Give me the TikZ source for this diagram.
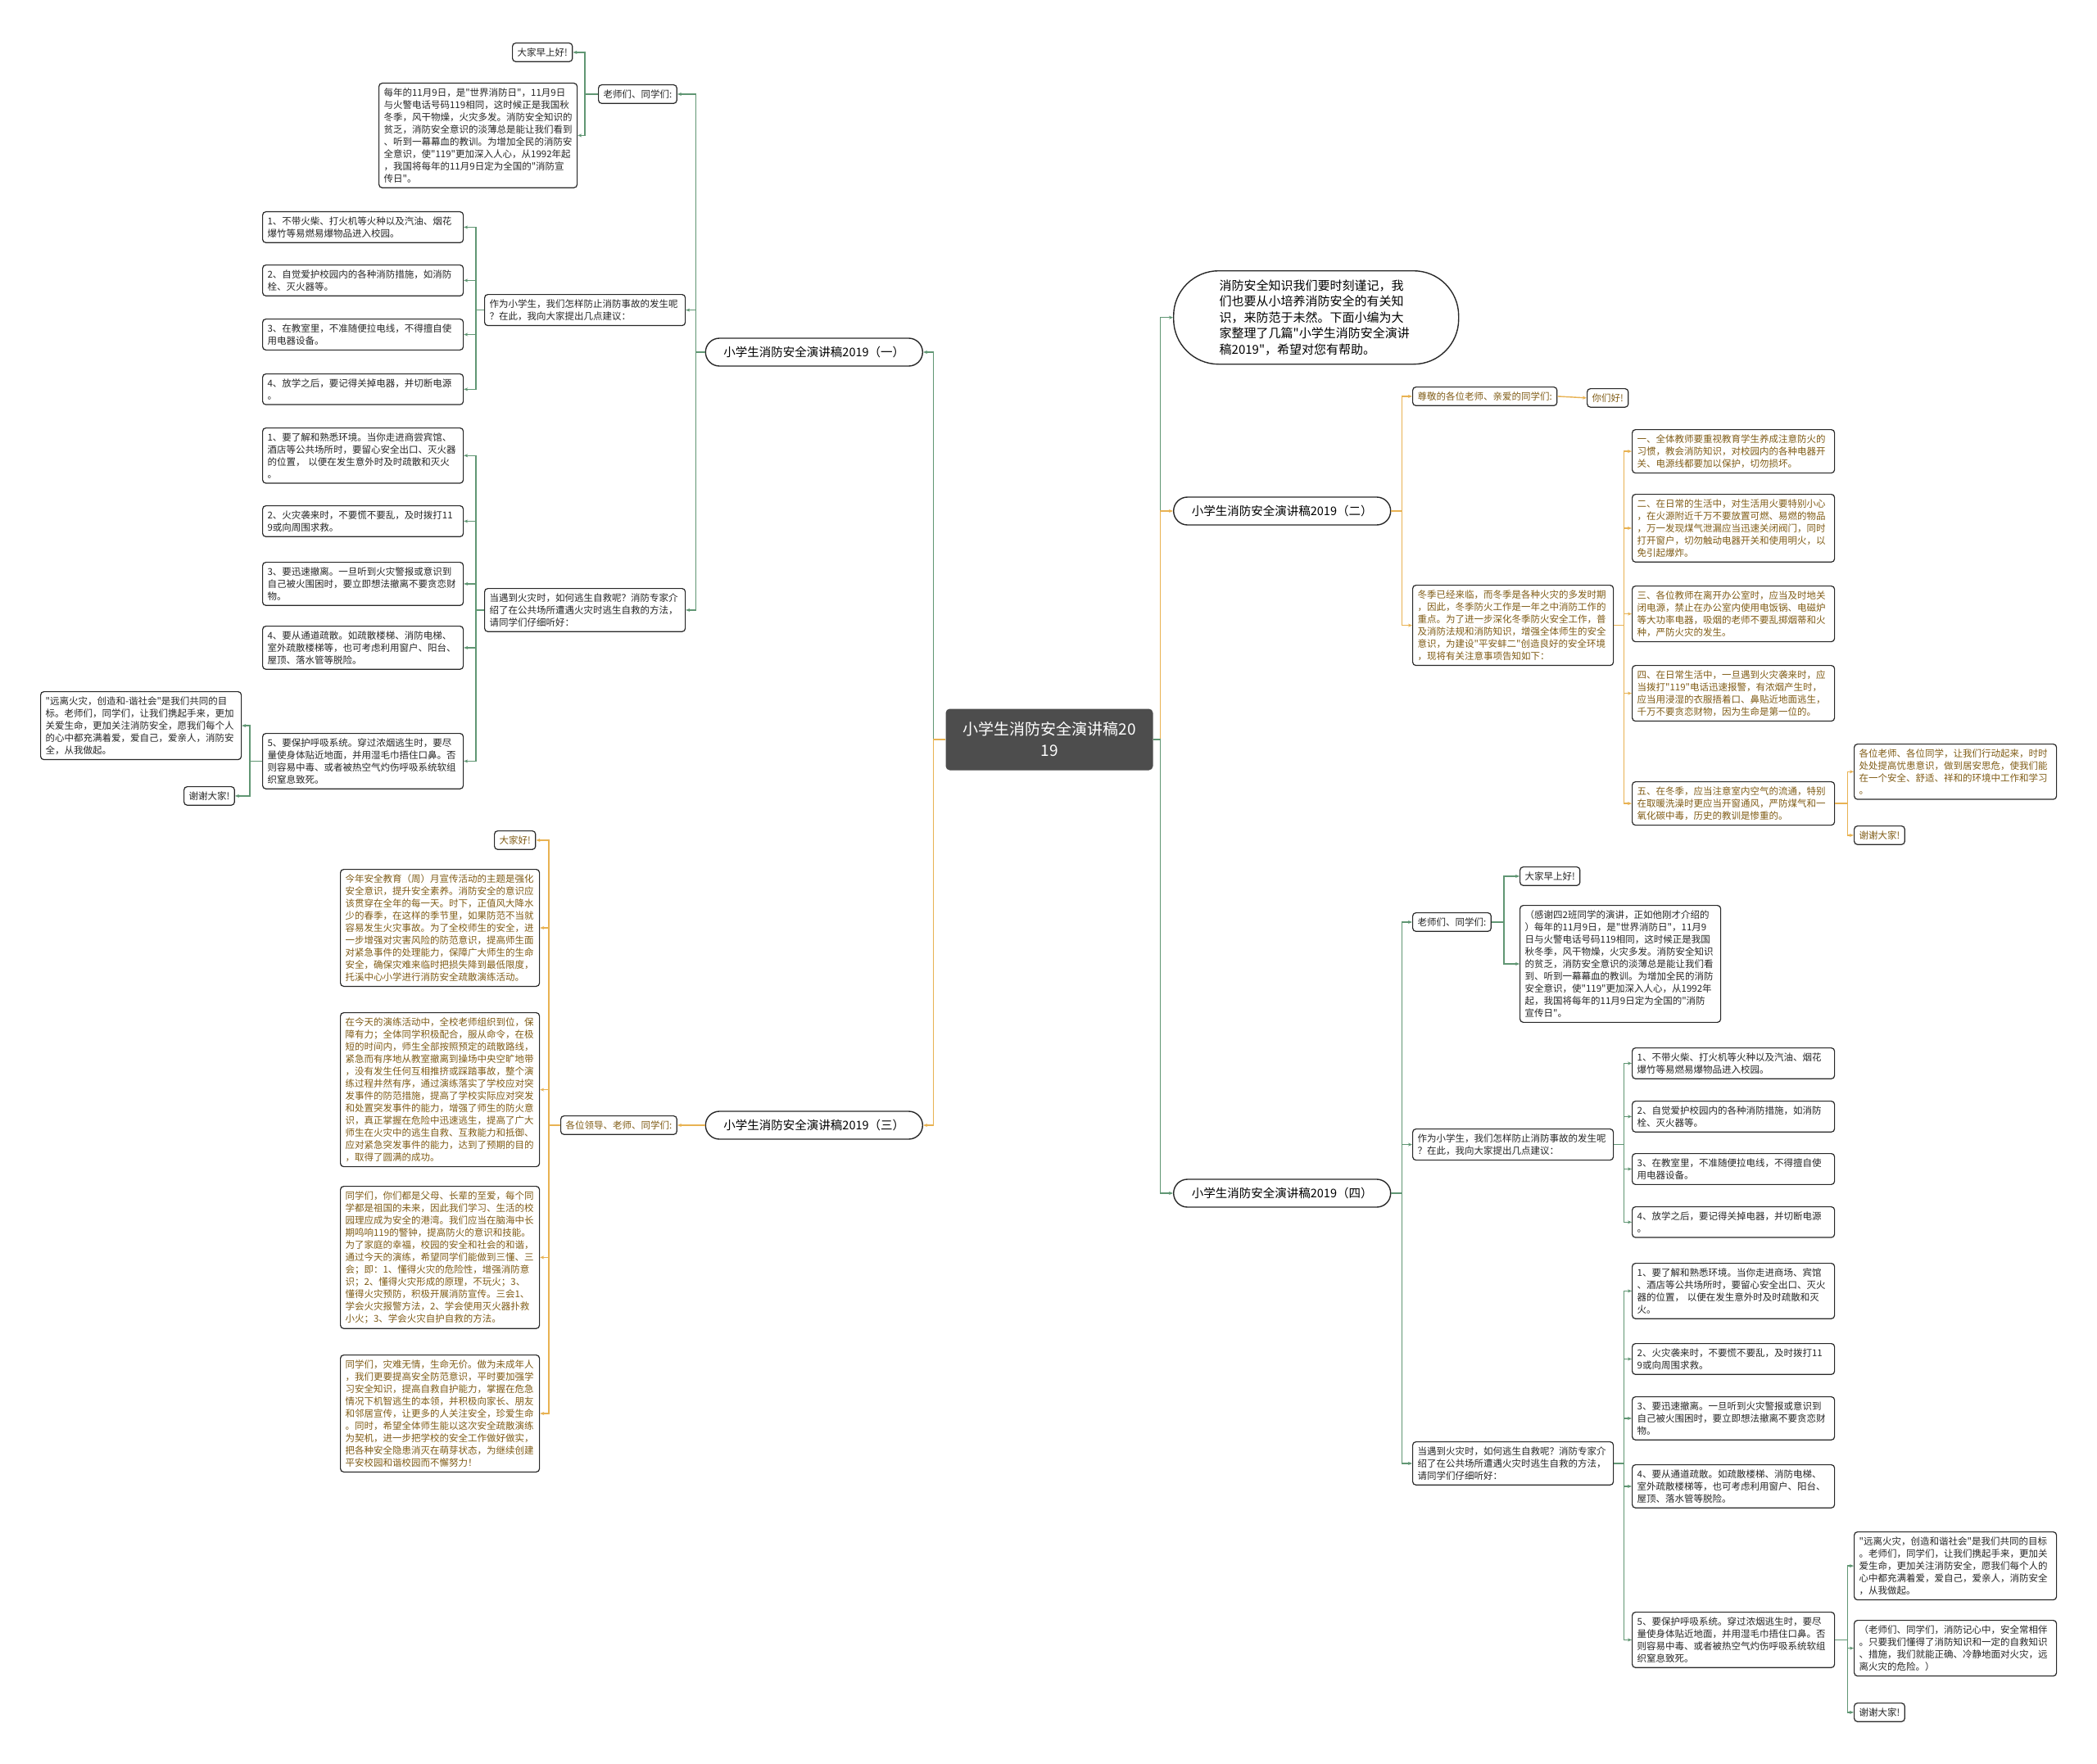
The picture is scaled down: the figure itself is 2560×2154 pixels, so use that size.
\documentclass[tikz,border=0pt]{standalone}
\usepackage{fontspec}
\setmainfont{Noto Sans CJK SC}[Ligatures=TeXOff]
\usepackage{tikz}
\usetikzlibrary{arrows.meta,positioning}
\definecolor{cstgreen}{RGB}{96,150,115}
\definecolor{cstorange}{RGB}{232,178,82}
\definecolor{cstgold}{RGB}{128,92,22}
\definecolor{cstborder}{RGB}{40,40,40}
\definecolor{cstdark}{RGB}{77,77,77}
\tikzset{
  % node
	cstroot/.style   ={fill=cstdark,text=white,rounded corners=5pt,minimum width=253pt,minimum height=75pt,align=center,font=\fontsize{19}{26}\selectfont},
	cstbranch/.style ={draw=cstborder,fill=white,line width=1.4pt,rounded corners=17pt,minimum width=265pt,minimum height=34pt,inner xsep=0pt,font=\fontsize{14.5}{18}\selectfont},
	cstintro/.style  ={draw=cstborder,fill=white,line width=1.4pt,rounded corners=55pt,minimum width=348pt,minimum height=114pt,text width=236pt,align=left,anchor=north west,font=\fontsize{15}{19.6}\selectfont},
	cstbox/.style    ={draw=cstborder,fill=white,line width=1.2pt,rounded corners=4pt,inner xsep=6pt,inner ysep=6pt,align=left,anchor=north west,font=\fontsize{11.5}{15}\selectfont},
	cstboxg/.style   ={cstbox,text=black!85},
	cstboxo/.style   ={cstbox,text=cstgold},
  % link
	cstlinkg/.style  ={cstgreen,line width=1.4pt,-{Stealth[length=5pt,width=4pt]}},
	cstlinko/.style  ={cstorange,line width=1.4pt,-{Stealth[length=5pt,width=4pt]}}
}
\begin{document}
\begin{tikzpicture}[x=1pt,y=-1pt]
	\useasboundingbox (0,0) rectangle (2560,2154);
	\fill[white] (0,0) rectangle (2560,2154);
	% root
	\node[cstroot] (root) at (1281,903) {小学生消防安全演讲稿20\\19};
	\node[cstintro] (intro) at (1432,330) {消防安全知识我们要时刻谨记，我\\们也要从小培养消防安全的有关知\\识，来防范于未然。下面小编为大\\家整理了几篇"小学生消防安全演讲\\稿2019"，希望对您有帮助。};
	\node[cstbranch,anchor=east] (b1) at (1127,430) {小学生消防安全演讲稿2019（一）};
	\node[cstbranch,anchor=west] (b2) at (1432,624) {小学生消防安全演讲稿2019（二）};
	\node[cstbranch,anchor=east] (b3) at (1127,1374) {小学生消防安全演讲稿2019（三）};
	\node[cstbranch,anchor=west] (b4) at (1432,1457) {小学生消防安全演讲稿2019（四）};
	\draw[cstlinkg] (root.east) -- ++(9,0) |- (intro.west);
	\draw[cstlinko] (root.east) -- ++(9,0) |- (b2.west);
	\draw[cstlinkg] (root.east) -- ++(9,0) |- (b4.west);
	\draw[cstlinkg] (root.west) -- ++(-15,0) |- (b1.east);
	\draw[cstlinko] (root.west) -- ++(-15,0) |- (b3.east);

	% branch 1
	\node[cstboxg] (g1) at (730,103) {老师们、同学们:};
	\node[cstboxg] (g1a) at (625,52) {大家早上好!};
	\node[cstboxg,text width=230pt] (g1b) at (462,101) {每年的11月9日，是"世界消防日"，11月9日\\与火警电话号码119相同，这时候正是我国秋\\冬季，风干物燥，火灾多发。消防安全知识的\\贫乏，消防安全意识的淡薄总是能让我们看到\\、听到一幕幕血的教训。为增加全民的消防安\\全意识，使"119"更加深入人心，从1992年起\\，我国将每年的11月9日定为全国的"消防宣\\传日"。};
	\node[cstboxg,text width=233pt] (g2) at (591,359) {作为小学生，我们怎样防止消防事故的发生呢\\？在此，我向大家提出几点建议：};
	\node[cstboxg,text width=233pt] (g2a) at (320,258) {1、不带火柴、打火机等火种以及汽油、烟花\\爆竹等易燃易爆物品进入校园。};
	\node[cstboxg,text width=233pt] (g2b) at (320,323) {2、自觉爱护校园内的各种消防措施，如消防\\栓、灭火器等。};
	\node[cstboxg,text width=233pt] (g2c) at (320,389) {3、在教室里，不准随便拉电线，不得擅自使\\用电器设备。};
	\node[cstboxg,text width=233pt] (g2d) at (320,456) {4、放学之后，要记得关掉电器，并切断电源\\。};
	\node[cstboxg,text width=233pt] (g3) at (591,718) {当遇到火灾时，如何逃生自救呢？消防专家介\\绍了在公共场所遭遇火灾时逃生自救的方法，\\请同学们仔细听好：};
	\node[cstboxg,text width=233pt] (g3a) at (320,522) {1、要了解和熟悉环境。当你走进商尝宾馆、\\酒店等公共场所时，要留心安全出口、灭火器\\的位置， 以便在发生意外时及时疏散和灭火\\。};
	\node[cstboxg,text width=233pt] (g3b) at (320,617) {2、火灾袭来时，不要慌不要乱，及时拨打11\\9或向周围求救。};
	\node[cstboxg,text width=233pt] (g3c) at (320,686) {3、要迅速撤离。一旦听到火灾警报或意识到\\自己被火围困时，要立即想法撤离不要贪恋财\\物。};
	\node[cstboxg,text width=233pt] (g3d) at (320,764) {4、要从通道疏散。如疏散楼梯、消防电梯、\\室外疏散楼梯等，也可考虑利用窗户、阳台、\\屋顶、落水管等脱险。};
	\node[cstboxg,text width=233pt] (g3e) at (320,895) {5、要保护呼吸系统。穿过浓烟逃生时，要尽\\量使身体贴近地面，并用湿毛巾捂住口鼻。否\\则容易中毒、或者被热空气灼伤呼吸系统软组\\织窒息致死。};
	\node[cstboxg,text width=233pt] (g3e1) at (49,844) {"远离火灾，创造和\mbox{-}谐社会"是我们共同的目\\标。老师们，同学们，让我们携起手来，更加\\关爱生命，更加关注消防安全，愿我们每个人\\的心中都充满着爱，爱自己，爱亲人，消防安\\全，从我做起。};
	\node[cstboxg] (g3e2) at (224,960) {谢谢大家!};
	\foreach \c in {g1,g2,g3} \draw[cstlinkg] (b1.west) -- ++(-11,0) |- (\c.east);
	\foreach \c in {g1a,g1b} \draw[cstlinkg] (g1.west) -- ++(-16,0) |- (\c.east);
	\foreach \c in {g2a,g2b,g2c,g2d} \draw[cstlinkg] (g2.west) -- ++(-10,0) |- (\c.east);
	\foreach \c in {g3a,g3b,g3c,g3d,g3e} \draw[cstlinkg] (g3.west) -- ++(-10,0) |- (\c.east);
	\foreach \c in {g3e1,g3e2} \draw[cstlinkg] (g3e.west) -- ++(-15,0) |- (\c.east);

	% branch 3
	\node[cstboxo] (o1) at (684,1362) {各位领导、老师、同学们:};
	\node[cstboxo] (o1a) at (603,1014) {大家好!};
	\node[cstboxo,text width=231pt] (o1b) at (415,1061) {今年安全教育（周）月宣传活动的主题是强化\\安全意识，提升安全素养。消防安全的意识应\\该贯穿在全年的每一天。时下，正值风大降水\\少的春季，在这样的季节里，如果防范不当就\\容易发生火灾事故。为了全校师生的安全，进\\一步增强对灾害风险的防范意识，提高师生面\\对紧急事件的处理能力，保障广大师生的生命\\安全，确保灾难来临时把损失降到最低限度，\\托溪中心小学进行消防安全疏散演练活动。};
	\node[cstboxo,text width=231pt] (o1c) at (415,1236) {在今天的演练活动中，全校老师组织到位，保\\障有力；全体同学积极配合，服从命令，在极\\短的时间内，师生全部按照预定的疏散路线，\\紧急而有序地从教室撤离到操场中央空旷地带\\，没有发生任何互相推挤或踩踏事故，整个演\\练过程井然有序，通过演练落实了学校应对突\\发事件的防范措施，提高了学校实际应对突发\\和处置突发事件的能力，增强了师生的防火意\\识，真正掌握在危险中迅速逃生，提高了广大\\师生在火灾中的逃生自救、互救能力和抵御、\\应对紧急突发事件的能力，达到了预期的目的\\，取得了圆满的成功。};
	\node[cstboxo,text width=231pt] (o1d) at (415,1448) {同学们，你们都是父母、长辈的至爱，每个同\\学都是祖国的未来，因此我们学习、生活的校\\园理应成为安全的港湾。我们应当在脑海中长\\期鸣响119的警钟，提高防火的意识和技能。\\为了家庭的幸福，校园的安全和社会的和谐，\\通过今天的演练，希望同学们能做到三懂、三\\会；即：1、懂得火灾的危险性，增强消防意\\识；2、懂得火灾形成的原理，不玩火；3、\\懂得火灾预防，积极开展消防宣传。三会1、\\学会火灾报警方法，2、学会使用灭火器扑救\\小火；3、学会火灾自护自救的方法。};
	\node[cstboxo,text width=231pt] (o1e) at (415,1654) {同学们，灾难无情，生命无价。做为未成年人\\，我们更要提高安全防范意识，平时要加强学\\习安全知识，提高自救自护能力，掌握在危急\\情况下机智逃生的本领，并积极向家长、朋友\\和邻居宣传，让更多的人关注安全，珍爱生命\\。同时，希望全体师生能以这次安全疏散演练\\为契机，进一步把学校的安全工作做好做实，\\把各种安全隐患消灭在萌芽状态，为继续创建\\平安校园和谐校园而不懈努力！};
	\draw[cstlinko] (b3.west) -- ++(-14,0) |- (o1.east);
	\foreach \c in {o1a,o1b,o1c,o1d,o1e} \draw[cstlinko] (o1.west) -- ++(-14,0) |- (\c.east);

	% branch 2
	\node[cstboxo] (r1) at (1724,472) {尊敬的各位老师、亲爱的同学们:};
	\node[cstboxo] (r1a) at (1937,474) {你们好!};
	\node[cstboxo,text width=233pt] (r2) at (1724,714) {冬季已经来临，而冬季是各种火灾的多发时期\\，因此，冬季防火工作是一年之中消防工作的\\重点。为了进一步深化冬季防火安全工作，普\\及消防法规和消防知识，增强全体师生的安全\\意识，为建设"平安蚌二"创造良好的安全环境\\，现将有关注意事项告知如下：};
	\node[cstboxo,text width=235pt] (r2a) at (1992,524) {一、全体教师要重视教育学生养成注意防火的\\习惯，教会消防知识，对校园内的各种电器开\\关、电源线都要加以保护，切勿损坏。};
	\node[cstboxo,text width=235pt] (r2b) at (1992,603) {二、在日常的生活中，对生活用火要特别小心\\，在火源附近千万不要放置可燃、易燃的物品\\，万一发现煤气泄漏应当迅速关闭阀门，同时\\打开窗户，切勿触动电器开关和使用明火，以\\免引起爆炸。};
	\node[cstboxo,text width=235pt] (r2c) at (1992,715) {三、各位教师在离开办公室时，应当及时地关\\闭电源，禁止在办公室内使用电饭锅、电磁炉\\等大功率电器，吸烟的老师不要乱掷烟蒂和火\\种，严防火灾的发生。};
	\node[cstboxo,text width=235pt] (r2d) at (1992,812) {四、在日常生活中，一旦遇到火灾袭来时，应\\当拨打"119"电话迅速报警，有浓烟产生时，\\应当用浸湿的衣服捂着口、鼻贴近地面逃生，\\千万不要贪恋财物，因为生命是第一位的。};
	\node[cstboxo,text width=235pt] (r2e) at (1992,954) {五、在冬季，应当注意室内空气的流通，特别\\在取暖洗澡时更应当开窗通风，严防煤气和一\\氧化碳中毒，历史的教训是惨重的。};
	\node[cstboxo,text width=235pt] (r2e1) at (2263,908) {各位老师、各位同学，让我们行动起来，时时\\处处提高忧患意识，做到居安思危，使我们能\\在一个安全、舒适、祥和的环境中工作和学习\\。};
	\node[cstboxo] (r2e2) at (2263,1008) {谢谢大家!};
	\foreach \c in {r1,r2} \draw[cstlinko] (b2.east) -- ++(13,0) |- (\c.west);
	\draw[cstlinko] (r1.east) -- (r1a.west);
	\foreach \c in {r2a,r2b,r2c,r2d,r2e} \draw[cstlinko] (r2.east) -- ++(12,0) |- (\c.west);
	\foreach \c in {r2e1,r2e2} \draw[cstlinko] (r2e.east) -- ++(15,0) |- (\c.west);

	% branch 4
	\node[cstboxg] (s1) at (1724,1114) {老师们、同学们:};
	\node[cstboxg] (s1a) at (1855,1058) {大家早上好!};
	\node[cstboxg,text width=233pt] (s1b) at (1855,1105) {（感谢四2班同学的演讲，正如他刚才介绍的\\）每年的11月9日，是"世界消防日"，11月9\\日与火警电话号码119相同，这时候正是我国\\秋冬季，风干物燥，火灾多发。消防安全知识\\的贫乏，消防安全意识的淡薄总是能让我们看\\到、听到一幕幕血的教训。为增加全民的消防\\安全意识，使"119"更加深入人心，从1992年\\起，我国将每年的11月9日定为全国的"消防\\宣传日"。};
	\node[cstboxg,text width=233pt] (s2) at (1724,1378) {作为小学生，我们怎样防止消防事故的发生呢\\？在此，我向大家提出几点建议：};
	\node[cstboxg,text width=235pt] (s2a) at (1992,1279) {1、不带火柴、打火机等火种以及汽油、烟花\\爆竹等易燃易爆物品进入校园。};
	\node[cstboxg,text width=235pt] (s2b) at (1992,1344) {2、自觉爱护校园内的各种消防措施，如消防\\栓、灭火器等。};
	\node[cstboxg,text width=235pt] (s2c) at (1992,1408) {3、在教室里，不准随便拉电线，不得擅自使\\用电器设备。};
	\node[cstboxg,text width=235pt] (s2d) at (1992,1473) {4、放学之后，要记得关掉电器，并切断电源\\。};
	\node[cstboxg,text width=233pt] (s3) at (1724,1760) {当遇到火灾时，如何逃生自救呢？消防专家介\\绍了在公共场所遭遇火灾时逃生自救的方法，\\请同学们仔细听好：};
	\node[cstboxg,text width=235pt] (s3a) at (1992,1542) {1、要了解和熟悉环境。当你走进商场、宾馆\\、酒店等公共场所时，要留心安全出口、灭火\\器的位置， 以便在发生意外时及时疏散和灭\\火。};
	\node[cstboxg,text width=235pt] (s3b) at (1992,1640) {2、火灾袭来时，不要慌不要乱，及时拨打11\\9或向周围求救。};
	\node[cstboxg,text width=235pt] (s3c) at (1992,1705) {3、要迅速撤离。一旦听到火灾警报或意识到\\自己被火围困时，要立即想法撤离不要贪恋财\\物。};
	\node[cstboxg,text width=235pt] (s3d) at (1992,1788) {4、要从通道疏散。如疏散楼梯、消防电梯、\\室外疏散楼梯等，也可考虑利用窗户、阳台、\\屋顶、落水管等脱险。};
	\node[cstboxg,text width=235pt] (s3e) at (1992,1968) {5、要保护呼吸系统。穿过浓烟逃生时，要尽\\量使身体贴近地面，并用湿毛巾捂住口鼻。否\\则容易中毒、或者被热空气灼伤呼吸系统软组\\织窒息致死。};
	\node[cstboxg,text width=235pt] (s3e1) at (2263,1870) {"远离火灾，创造和谐社会"是我们共同的目标\\。老师们，同学们，让我们携起手来，更加关\\爱生命，更加关注消防安全，愿我们每个人的\\心中都充满着爱，爱自己，爱亲人，消防安全\\，从我做起。};
	\node[cstboxg,text width=235pt] (s3e2) at (2263,1978) {（老师们、同学们，消防记心中，安全常相伴\\。只要我们懂得了消防知识和一定的自救知识\\、措施，我们就能正确、冷静地面对火灾，远\\离火灾的危险。）};
	\node[cstboxg] (s3e3) at (2263,2079) {谢谢大家!};
	\foreach \c in {s1,s2,s3} \draw[cstlinkg] (b4.east) -- ++(13,0) |- (\c.west);
	\foreach \c in {s1a,s1b} \draw[cstlinkg] (s1.east) -- ++(15,0) |- (\c.west);
	\foreach \c in {s2a,s2b,s2c,s2d} \draw[cstlinkg] (s2.east) -- ++(12,0) |- (\c.west);
	\foreach \c in {s3a,s3b,s3c,s3d,s3e} \draw[cstlinkg] (s3.east) -- ++(12,0) |- (\c.west);
	\foreach \c in {s3e1,s3e2,s3e3} \draw[cstlinkg] (s3e.east) -- ++(15,0) |- (\c.west);
\end{tikzpicture}
\end{document}
